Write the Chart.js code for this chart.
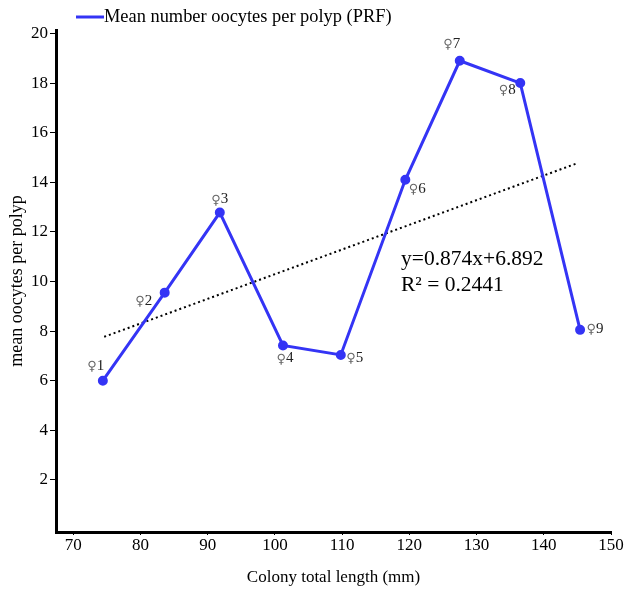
<!DOCTYPE html>
<html>
<head>
<meta charset="utf-8">
<script src="https://cdn.jsdelivr.net/npm/chart.js@4/dist/chart.umd.min.js"></script>
<style>
html,body{margin:0;padding:0;background:#fff;}
#wrap{width:624px;height:592px;position:relative;}
</style>
</head>
<body>
<div id="wrap"><canvas id="c" width="624" height="592"></canvas></div>
<script>
// ---- data ----
const colonyLength = [74.4, 83.6, 91.8, 101.2, 109.8, 119.4, 127.5, 136.5, 145.4];
const meanOocytes  = [6.0, 9.55, 12.78, 7.42, 7.04, 14.1, 18.9, 18.0, 8.05];
const pointSymbol  = '♀';
const pointNumbers = ['1','2','3','4','5','6','7','8','9'];
const trendX = [74.6, 145.0];
const trendY = [7.77, 14.77];
const xTicks = [70, 80, 90, 100, 110, 120, 130, 140, 150];
const yTicks = [2, 4, 6, 8, 10, 12, 14, 16, 18, 20];
const seriesName = 'Mean number oocytes per polyp (PRF)';
const equationLines = ['y=0.874x+6.892', 'R² = 0.2441'];

const SERIF = '"Liberation Serif", "DejaVu Serif", serif';
const BLUE = '#3434f5';

// label placement (style only)
const labelOffsets = [[-7,-15],[-21,8],[0,-13],[2,13],[14,3],[12,9],[-8,-17],[-13,7],[15,-1]];

const annotPlugin = {
  id: 'annot',
  afterDatasetsDraw(chart) {
    const ctx = chart.ctx;
    const xs = chart.scales.x, ys = chart.scales.y;
    ctx.save();
    ctx.textBaseline = 'middle';
    ctx.textAlign = 'left';
    const symFont = '13px "DejaVu Sans", sans-serif';
    const numFont = '15px ' + SERIF;
    colonyLength.forEach((v, i) => {
      const px = xs.getPixelForValue(v), py = ys.getPixelForValue(meanOocytes[i]);
      ctx.font = symFont;
      const w1 = ctx.measureText(pointSymbol).width;
      ctx.font = numFont;
      const w2 = ctx.measureText(pointNumbers[i]).width;
      const cx = px + labelOffsets[i][0], cy = py + labelOffsets[i][1];
      const x0 = cx - (w1 + w2) / 2;
      ctx.font = symFont;
      ctx.fillStyle = '#666';
      ctx.fillText(pointSymbol, x0, cy + 1);
      ctx.font = numFont;
      ctx.fillStyle = '#222';
      ctx.fillText(pointNumbers[i], x0 + w1, cy);
    });
    // equation
    ctx.font = '21.5px ' + SERIF;
    ctx.fillStyle = '#000';
    ctx.fillText(equationLines[0], 401, 259);
    ctx.fillText(equationLines[1], 401, 285);
    // legend
    ctx.strokeStyle = BLUE;
    ctx.lineWidth = 3;
    ctx.beginPath();
    ctx.moveTo(76, 17);
    ctx.lineTo(104, 17);
    ctx.stroke();
    ctx.font = '18.4px ' + SERIF;
    ctx.fillStyle = '#000';
    ctx.fillText(seriesName, 104, 17);
    ctx.restore();
  }
};

new Chart(document.getElementById('c'), {
  type: 'scatter',
  data: {
    datasets: [
      {
        label: seriesName,
        data: colonyLength.map((x, i) => ({x, y: meanOocytes[i]})),
        showLine: true,
        borderColor: BLUE,
        backgroundColor: BLUE,
        borderWidth: 3,
        pointRadius: 3.5,
        pointHoverRadius: 3.5,
        tension: 0
      },
      {
        label: 'trend',
        data: trendX.map((x, i) => ({x, y: trendY[i]})),
        showLine: true,
        borderColor: '#000',
        borderWidth: 2,
        borderDash: [2, 3],
        pointRadius: 0
      }
    ]
  },
  options: {
    responsive: false,
    animation: false,
    layout: { padding: { left: 0, top: 30, right: 13, bottom: 0 } },
    plugins: { legend: { display: false }, tooltip: { enabled: false } },
    scales: {
      x: {
        type: 'linear',
        min: 67.43, max: 150,
        afterBuildTicks: s => { s.ticks = xTicks.map(v => ({value: v})); },
        afterFit: s => { s.height = 60; },
        grid: { drawOnChartArea: false, tickLength: 3, color: '#000', tickWidth: 1 },
        border: { color: '#000', width: 3 },
        ticks: { color: '#000', font: { family: SERIF, size: 17 }, padding: 0, maxRotation: 0, autoSkip: false },
        title: { display: true, text: 'Colony total length (mm)', color: '#000', font: { family: SERIF, size: 17 }, padding: { bottom: 4, top: 0 } }
      },
      y: {
        type: 'linear',
        min: -0.1, max: 20.14,
        afterBuildTicks: s => { s.ticks = yTicks.map(v => ({value: v})); },
        afterFit: s => { s.width = 56; },
        grid: { drawOnChartArea: false, tickLength: 6, color: '#000', tickWidth: 1 },
        border: { color: '#000', width: 3 },
        ticks: { color: '#000', font: { family: SERIF, size: 17 }, padding: 2 },
        title: { display: true, text: 'mean oocytes per polyp', color: '#000', font: { family: SERIF, size: 18 }, padding: { top: 6, bottom: 0 } }
      }
    }
  },
  plugins: [annotPlugin]
});
</script>
</body>
</html>
